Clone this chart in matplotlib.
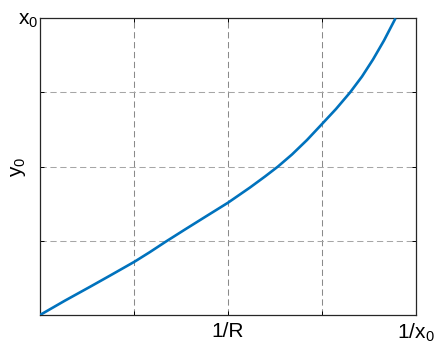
import matplotlib.pyplot as plt

plt.rcParams.update({
    "font.family": ["Liberation Sans", "DejaVu Sans"],
    "font.size": 15,
    "mathtext.fontset": "custom",
    "mathtext.rm": "Liberation Sans",
    "mathtext.it": "Liberation Sans",
})

# curve in normalised units: x from 0 to 1/x0, y from 0 to x0
X = [0.0, 0.0665, 0.133, 0.1862, 0.2513, 0.2926, 0.3351, 0.3856, 0.4388,
     0.5, 0.5585, 0.5984, 0.633, 0.6702, 0.7101, 0.75, 0.7872, 0.8245,
     0.8564, 0.8856, 0.9149, 0.9455]
Y = [0.0, 0.0485, 0.095, 0.1328, 0.1796, 0.2123, 0.2477, 0.2882, 0.3303,
     0.3785, 0.4297, 0.4668, 0.5005, 0.541, 0.5898, 0.6437, 0.6943, 0.7499,
     0.8038, 0.8611, 0.9252, 1.0]

XTICKS = [0.25, 0.5, 0.75, 1.0]
XLABELS = ["", "1/R", "", r"$\mathregular{1/x_0}$"]
YTICKS = [0.25, 0.5, 0.75, 1.0]
YLABELS = ["", "", "", r"$\mathregular{x_0}$"]

fig = plt.figure(figsize=(4.43, 3.48), dpi=100)
ax = fig.add_axes([40 / 443, 33 / 348, 376 / 443, 296.7 / 348])

for v in XTICKS[:-1]:
    ax.axvline(v, color="#8a8a8a", lw=0.75, dashes=(6, 3.5), zorder=1)
for v in YTICKS[:-1]:
    ax.axhline(v, color="#a6a6a6", lw=0.75, dashes=(6, 3.5), zorder=1)

ax.plot(X, Y, color="#0072BD", lw=1.9, solid_capstyle="butt",
        solid_joinstyle="round", zorder=3)

ax.set_xlim(0, 1)
ax.set_ylim(0, 1)
ax.set_xticks(XTICKS)
ax.set_xticklabels(XLABELS)
ax.set_yticks(YTICKS)
ax.set_yticklabels(YLABELS)
ax.tick_params(direction="in", length=3, width=0.7, top=True, right=True)
ax.tick_params(axis="x", pad=5)
ax.tick_params(axis="y", pad=1)
ax.set_ylabel(r"$\mathregular{y_0}$")
ax.yaxis.set_label_coords(-0.033, 0.5)

for s in ax.spines.values():
    s.set_linewidth(0.9)
    s.set_color("#262626")

fig.savefig("out.png", dpi=100)
